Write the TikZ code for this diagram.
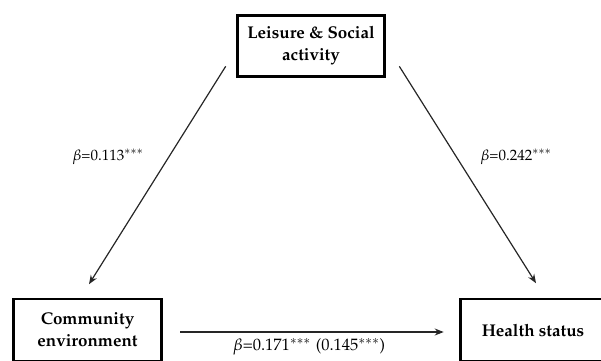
\documentclass[tikz,border=0pt]{standalone}
\usepackage[T1]{fontenc}
\usepackage{mathpazo}
\usetikzlibrary{positioning}
\usetikzlibrary{calc}
\usetikzlibrary{arrows.meta}

\newcommand{\sig}{$^{\ast\ast\ast}$}

\tikzset{
  box/.style={draw=black, line width=2.6pt, align=center, inner sep=0pt,
    font=\fontsize{17}{22}\selectfont\bfseries},
  arr/.style={-{Stealth[length=9pt,width=7pt]}, line width=1.2pt, black!85},
  lbl/.style={font=\fontsize{15}{17}\selectfont}
}

\begin{document}
\begin{tikzpicture}[x=1pt, y=-1pt]
    \useasboundingbox (0,0) rectangle (601,360);
    \clip (0,0) rectangle (601,360);

    % Variables
    \node[box, minimum width=147pt, minimum height=61pt] (leisure) at (311,46) {Leisure \& Social\\activity};
    \node[box, minimum width=148pt, minimum height=62pt] (community) at (87.5,330) {Community\\environment};
    \node[box, minimum width=145pt, minimum height=62pt] (health) at (533,330) {Health status};

    % Paths
    \draw[arr] ($(leisure.south west)+(-10.5,-11.5)$) -- ($(community.north)+(1.5,-13.5)$);
    \draw[arr] ($(leisure.south east)+(13.5,-11.5)$) -- ($(health.north)+(3,-14.5)$);
    \draw[arr] ($(community.east)+(17.5,2)$) -- ($(health.west)+(-15.5,2)$);

    % Coefficients
    \node[lbl] (b1) at (108,157) {$\beta$=0.113\sig};
    \node[lbl] (b2) at (516,157) {$\beta$=0.242\sig};
    \node[lbl, font=\fontsize{16.5}{18}\selectfont] (b3) at (309,347) {$\beta$=0.171\sig\hspace{0.3em}(0.145\sig)};
\end{tikzpicture}
\end{document}
